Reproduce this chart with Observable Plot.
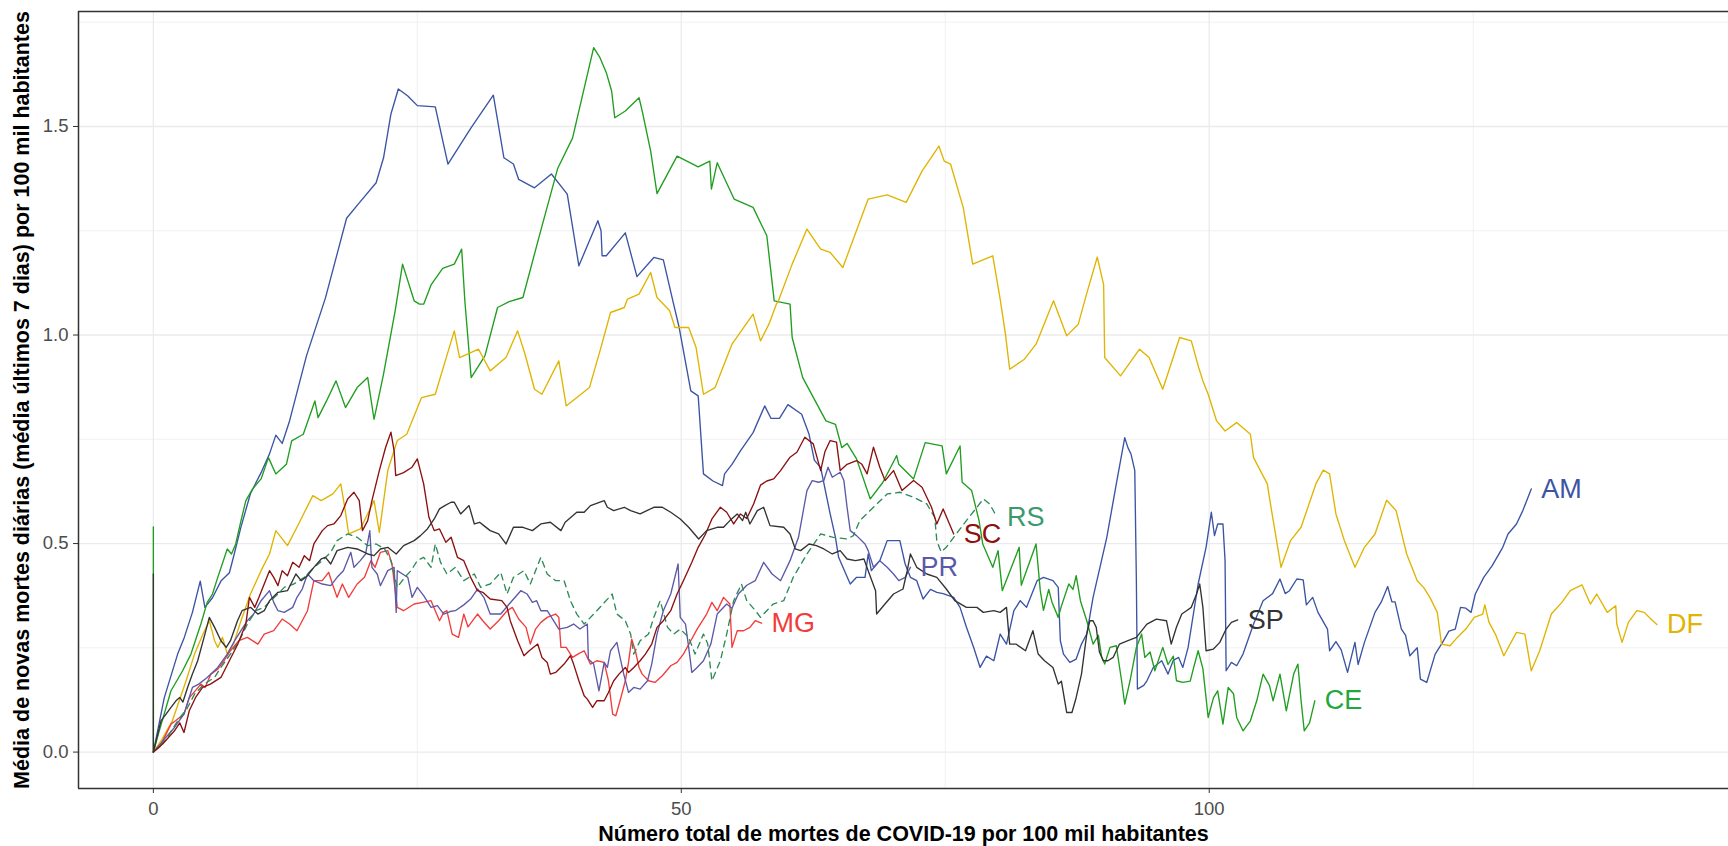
<!DOCTYPE html>
<html><head><meta charset="utf-8">
<script src="https://cdn.jsdelivr.net/npm/d3@7"></script>
<script src="https://cdn.jsdelivr.net/npm/@observablehq/plot@0.6"></script>
<style>
html,body{margin:0;padding:0;background:#fff;overflow:hidden}
#chart svg{display:block}
</style>
</head><body><div id="chart"></div>
<script>
const states = ["AM","CE","DF","MG","PR","RS","SC","SP"];
const xTicks = [0, 50, 100];
const yTicks = [0, 0.5, 1, 1.5];
const xMinor = [25, 75, 125];
const yMinor = [0.25, 0.75, 1.25, 1.75];
const xTitle = "Número total de mortes de COVID-19 por 100 mil habitantes";
const yTitle = "Média de novas mortes diárias (média últimos 7 dias) por 100 mil habitantes";

const AM = [[0,0],[1.03,0.13],[2.3,0.235],[2.93,0.275],[3.7,0.335],[4.44,0.41],[4.88,0.347],[5.6,0.37],[6.4,0.41],[7.2,0.43],[7.66,0.475],[8.3,0.54],[9.2,0.62],[10.2,0.67],[11.0,0.715],[11.6,0.76],[12.2,0.74],[12.9,0.794],[14.5,0.95],[16.3,1.089],[17.4,1.194],[18.3,1.28],[19.4,1.314],[21.1,1.365],[21.8,1.425],[22.5,1.53],[23.2,1.59],[24.1,1.573],[25.0,1.55],[26.7,1.547],[27.9,1.41],[30.1,1.497],[32.2,1.575],[33.2,1.425],[34.1,1.41],[34.6,1.373],[36.1,1.353],[37.7,1.386],[39.2,1.338],[40.3,1.166],[42.1,1.274],[42.4,1.25],[42.5,1.19],[42.9,1.19],[44.7,1.245],[45.8,1.14],[47.4,1.186],[48.3,1.18],[49.2,1.082],[49.8,1.018],[50.9,0.866],[51.6,0.854],[52.1,0.667],[53.0,0.65],[53.9,0.639],[54.1,0.667],[54.8,0.69],[55.6,0.722],[56.8,0.766],[57.9,0.83],[58.5,0.8],[59.3,0.8],[60.1,0.833],[61.4,0.81],[62.1,0.762],[62.6,0.7],[63.2,0.682],[64.1,0.571],[64.6,0.515],[64.9,0.467],[66.0,0.403],[66.6,0.419],[67.4,0.419],[67.7,0.475],[68.0,0.435],[68.8,0.459],[69.5,0.507],[70.7,0.507],[71.2,0.451],[71.7,0.419],[72.3,0.411],[72.9,0.367],[73.6,0.39],[74.2,0.383],[74.8,0.38],[75.8,0.371],[76.4,0.347],[77.0,0.3],[77.7,0.25],[78.3,0.203],[78.9,0.23],[79.6,0.219],[80.2,0.283],[80.8,0.259],[81.5,0.339],[82.1,0.363],[82.7,0.347],[83.7,0.411],[84.3,0.419],[85.2,0.411],[85.7,0.395],[85.9,0.267],[86.2,0.235],[86.8,0.215],[87.4,0.223],[87.9,0.259],[88.4,0.283],[89.0,0.371],[90.3,0.515],[91.2,0.643],[92.0,0.754],[92.3,0.73],[92.6,0.714],[92.95,0.675],[93.1,0.411],[93.2,0.151],[93.8,0.16],[94.1,0.171],[94.7,0.203],[95.5,0.219],[96.1,0.187],[96.6,0.22],[97.1,0.227],[97.5,0.203],[98.0,0.251],[98.95,0.403],[99.7,0.491],[100.2,0.575],[100.5,0.519],[100.8,0.547],[101.3,0.547],[101.5,0.459],[101.6,0.195],[102.1,0.215],[102.6,0.207],[103.2,0.235],[104.2,0.307],[105.1,0.363],[106.0,0.38],[106.7,0.415],[107.2,0.38],[107.6,0.387],[108.3,0.415],[108.9,0.413],[109.2,0.353],[109.8,0.371],[110.3,0.335],[111.2,0.295],[111.4,0.243],[112.0,0.265],[112.5,0.245],[113.1,0.191],[113.8,0.263],[114.1,0.21],[114.7,0.263],[115.7,0.335],[116.3,0.36],[116.9,0.397],[117.3,0.36],[117.6,0.36],[118.2,0.295],[118.6,0.28],[119.0,0.231],[119.7,0.25],[120.0,0.175],[120.6,0.167],[121.4,0.235],[122.1,0.263],[122.7,0.29],[123.3,0.295],[123.8,0.347],[124.3,0.345],[124.8,0.335],[125.2,0.379],[126.0,0.419],[126.8,0.447],[127.8,0.491],[128.3,0.523],[129.1,0.547],[129.7,0.579],[130.5,0.631]];

const CE = [[0,0.54],[0,0],[0.56,0.051],[1.67,0.147],[2.77,0.195],[3.56,0.235],[4.5,0.307],[5.1,0.359],[5.6,0.379],[6.1,0.419],[7.0,0.487],[7.4,0.475],[7.8,0.499],[8.3,0.555],[8.76,0.603],[9.4,0.631],[10.2,0.655],[10.9,0.706],[11.6,0.667],[12.6,0.69],[13.1,0.746],[14.2,0.762],[15.3,0.842],[15.6,0.802],[16.4,0.842],[17.3,0.89],[18.2,0.826],[19.3,0.874],[20.3,0.898],[20.9,0.798],[21.8,0.906],[22.9,1.058],[23.6,1.17],[24.7,1.082],[25.2,1.074],[25.6,1.074],[26.3,1.12],[27.4,1.16],[28.5,1.17],[29.2,1.206],[29.5,1.082],[30.1,0.898],[31.4,0.95],[32.6,1.066],[33.7,1.08],[35.0,1.09],[36.6,1.242],[38.3,1.4],[39.7,1.472],[41.7,1.689],[42.3,1.665],[42.9,1.629],[43.4,1.585],[43.7,1.521],[44.7,1.537],[46.0,1.569],[46.3,1.537],[47.1,1.441],[47.7,1.339],[49.6,1.429],[51.6,1.403],[52.7,1.417],[52.85,1.35],[53.4,1.413],[55.0,1.326],[56.8,1.306],[58.1,1.238],[58.8,1.082],[60.3,1.074],[60.5,0.994],[61.5,0.898],[63.7,0.794],[64.6,0.786],[65.2,0.73],[65.7,0.74],[66.6,0.703],[67.9,0.607],[69.1,0.647],[70.4,0.711],[70.6,0.69],[72.0,0.655],[73.1,0.742],[74.7,0.734],[75.1,0.667],[76.4,0.734],[76.6,0.647],[77.5,0.627],[78.2,0.555],[78.55,0.499],[79.5,0.443],[80.0,0.483],[80.4,0.387],[82.0,0.491],[82.2,0.4],[83.6,0.499],[84.0,0.387],[84.3,0.34],[84.8,0.39],[85.1,0.36],[85.7,0.323],[86.0,0.35],[86.7,0.403],[87.1,0.39],[87.4,0.423],[87.8,0.363],[88.4,0.315],[89.0,0.259],[89.5,0.28],[89.8,0.23],[90.1,0.211],[90.6,0.251],[91.2,0.255],[91.7,0.171],[92.0,0.115],[92.5,0.171],[93.1,0.251],[93.6,0.283],[93.9,0.227],[94.4,0.24],[94.85,0.195],[95.6,0.251],[96.1,0.21],[96.6,0.23],[96.9,0.171],[97.5,0.167],[98.2,0.17],[98.5,0.2],[98.95,0.243],[99.4,0.2],[99.9,0.083],[100.4,0.13],[100.8,0.147],[101.3,0.067],[101.8,0.155],[102.3,0.14],[102.6,0.083],[103.2,0.051],[103.9,0.075],[104.5,0.123],[105.1,0.187],[105.7,0.16],[106.05,0.123],[106.7,0.187],[107.3,0.099],[108.0,0.187],[108.4,0.211],[108.7,0.123],[109.0,0.051],[109.5,0.07],[110.0,0.123]];

const DF = [[0,0],[0.8,0.03],[1.8,0.075],[2.45,0.123],[3.1,0.171],[3.9,0.235],[4.7,0.283],[5.3,0.315],[5.8,0.267],[6.1,0.251],[6.55,0.275],[7.0,0.235],[7.6,0.26],[8.3,0.315],[9.2,0.379],[10.2,0.435],[11.0,0.475],[11.6,0.531],[12.7,0.495],[13.6,0.539],[15.1,0.615],[15.9,0.603],[17.0,0.619],[17.75,0.643],[18.1,0.591],[18.5,0.523],[19.6,0.535],[20.6,0.587],[20.9,0.603],[21.4,0.527],[22.2,0.675],[23.1,0.747],[24.0,0.762],[25.4,0.85],[26.7,0.858],[28.5,1.01],[29.0,0.946],[30.8,0.966],[31.9,0.914],[33.4,0.946],[34.5,1.01],[35.2,0.954],[36.1,0.87],[36.8,0.858],[38.4,0.938],[39.1,0.83],[41.3,0.874],[42.3,0.962],[43.3,1.054],[44.6,1.066],[44.9,1.086],[46.0,1.098],[47.1,1.15],[47.7,1.09],[48.9,1.058],[49.4,1.018],[50.7,1.018],[51.4,0.97],[52.1,0.858],[53.2,0.874],[54.8,0.978],[56.8,1.05],[57.5,0.986],[58.3,1.026],[59.0,1.074],[59.2,1.082],[60.5,1.17],[61.9,1.254],[63.2,1.206],[64.1,1.198],[65.3,1.162],[67.7,1.326],[69.5,1.336],[71.3,1.318],[72.8,1.393],[74.4,1.453],[74.9,1.417],[75.5,1.41],[76.7,1.306],[77.6,1.17],[79.5,1.19],[80.2,1.086],[80.7,1.002],[81.1,0.918],[82.5,0.942],[83.6,0.978],[85.25,1.082],[86.5,0.998],[87.6,1.026],[88.4,1.1],[89.4,1.187],[90.0,1.12],[90.1,0.946],[91.6,0.902],[93.4,0.966],[94.3,0.946],[95.6,0.87],[97.2,0.994],[98.3,0.986],[99.0,0.922],[99.4,0.89],[99.9,0.858],[100.7,0.794],[101.5,0.77],[102.6,0.79],[103.9,0.762],[104.2,0.706],[105.5,0.643],[105.8,0.595],[106.8,0.443],[107.7,0.507],[108.7,0.539],[110.1,0.643],[110.8,0.676],[111.4,0.667],[112.0,0.571],[112.8,0.507],[113.8,0.443],[114.7,0.491],[115.7,0.523],[116.8,0.604],[117.7,0.579],[118.7,0.475],[119.7,0.411],[120.3,0.395],[120.9,0.371],[121.6,0.335],[122.0,0.259],[122.8,0.255],[123.5,0.275],[124.3,0.295],[125.1,0.323],[125.9,0.331],[126.1,0.353],[126.5,0.311],[127.1,0.283],[127.9,0.231],[129.1,0.287],[129.9,0.283],[130.5,0.195],[131.3,0.243],[132.4,0.331],[133.4,0.359],[134.2,0.387],[135.3,0.401],[136.1,0.355],[136.7,0.379],[137.7,0.335],[138.5,0.351],[138.6,0.307],[139.1,0.263],[139.7,0.311],[140.5,0.339],[141.2,0.335],[142.0,0.315],[142.4,0.306]];

const MG = [[0,0],[0.6,0.012],[1.67,0.067],[2.1,0.075],[2.9,0.091],[3.4,0.13],[4.5,0.163],[4.9,0.155],[5.45,0.187],[6.1,0.199],[6.7,0.219],[7.3,0.243],[8.1,0.267],[8.9,0.275],[9.9,0.259],[10.5,0.283],[11.4,0.291],[12.2,0.319],[12.9,0.307],[13.6,0.291],[14.6,0.339],[15.2,0.411],[16.0,0.411],[16.6,0.431],[16.96,0.403],[17.4,0.371],[17.9,0.403],[18.5,0.371],[19.3,0.403],[20.0,0.419],[20.6,0.459],[21.0,0.443],[21.5,0.479],[22.2,0.483],[22.6,0.451],[23.1,0.347],[23.7,0.339],[24.7,0.355],[25.5,0.359],[26.3,0.363],[27.1,0.315],[27.5,0.335],[27.8,0.339],[28.3,0.283],[28.9,0.275],[29.4,0.331],[29.8,0.3],[30.7,0.331],[31.2,0.315],[31.9,0.295],[32.7,0.315],[33.5,0.339],[34.0,0.347],[34.6,0.319],[35.3,0.299],[35.7,0.259],[36.2,0.295],[36.7,0.311],[37.3,0.323],[38.1,0.331],[38.4,0.323],[38.6,0.251],[39.1,0.251],[39.7,0.227],[40.2,0.235],[40.8,0.243],[41.4,0.211],[42.0,0.219],[42.7,0.215],[43.1,0.171],[43.5,0.091],[43.8,0.087],[44.2,0.123],[44.7,0.171],[45.0,0.215],[45.3,0.271],[45.65,0.243],[46.0,0.203],[46.3,0.187],[46.9,0.171],[47.5,0.167],[48.2,0.183],[49.0,0.207],[49.6,0.215],[50.2,0.235],[50.9,0.267],[51.5,0.295],[52.4,0.331],[52.9,0.359],[53.4,0.339],[54.0,0.371],[54.6,0.355],[54.8,0.251],[55.3,0.291],[55.9,0.291],[56.5,0.299],[57.0,0.315],[57.6,0.309]];

const PR = [[0,0],[1.0,0.03],[2.0,0.059],[2.9,0.091],[3.7,0.155],[4.3,0.163],[5.1,0.179],[6.1,0.203],[7.0,0.235],[7.7,0.267],[8.3,0.291],[8.9,0.315],[9.5,0.331],[10.2,0.363],[11.0,0.387],[11.4,0.359],[11.8,0.339],[12.4,0.335],[13.2,0.347],[13.6,0.371],[14.1,0.391],[14.6,0.427],[15.2,0.411],[16.0,0.403],[16.8,0.399],[17.4,0.419],[18.0,0.435],[18.7,0.479],[19.0,0.443],[19.6,0.459],[20.1,0.475],[20.5,0.531],[20.7,0.443],[21.2,0.427],[21.5,0.399],[22.2,0.435],[22.8,0.443],[23.0,0.335],[23.1,0.435],[23.6,0.427],[24.1,0.419],[24.5,0.371],[25.0,0.395],[25.6,0.375],[26.3,0.347],[26.9,0.351],[27.5,0.331],[28.1,0.337],[28.6,0.339],[29.4,0.353],[30.05,0.367],[30.7,0.391],[31.3,0.371],[31.9,0.331],[32.9,0.331],[33.7,0.355],[34.8,0.387],[35.4,0.379],[35.9,0.359],[36.3,0.363],[36.7,0.339],[37.3,0.339],[37.9,0.315],[38.4,0.295],[39.2,0.299],[39.8,0.307],[40.4,0.295],[41.1,0.307],[41.2,0.223],[41.7,0.211],[42.2,0.147],[42.7,0.215],[43.0,0.203],[43.3,0.243],[43.9,0.263],[44.2,0.227],[44.55,0.187],[45.0,0.143],[45.5,0.155],[46.1,0.151],[46.8,0.171],[47.2,0.211],[47.7,0.283],[48.3,0.339],[49.0,0.379],[49.7,0.451],[49.9,0.323],[50.4,0.307],[50.7,0.251],[51.0,0.191],[51.5,0.203],[52.1,0.219],[52.8,0.259],[53.4,0.331],[54.3,0.355],[54.8,0.345],[55.4,0.379],[56.2,0.4],[57.0,0.411],[57.8,0.455],[58.6,0.427],[59.4,0.411],[60.3,0.459],[61.1,0.515],[61.9,0.627],[62.4,0.651],[63.0,0.647],[63.5,0.651],[63.9,0.683],[64.3,0.659],[65.05,0.671],[65.4,0.651],[65.7,0.587],[66.0,0.531],[66.6,0.519],[67.4,0.499],[67.7,0.483],[68.2,0.443],[68.8,0.459],[69.5,0.443],[70.1,0.427],[70.6,0.411],[71.2,0.419],[71.7,0.443]];

const RS = [[0,0],[1.2,0.03],[2.3,0.075],[3.2,0.105],[3.9,0.139],[4.8,0.163],[5.8,0.179],[6.4,0.203],[7.3,0.235],[8.3,0.275],[8.9,0.307],[9.7,0.339],[10.5,0.347],[11.1,0.363],[11.8,0.379],[12.4,0.395],[13.3,0.403],[14.3,0.419],[15.2,0.443],[16.0,0.459],[16.8,0.479],[17.4,0.507],[18.4,0.523],[19.3,0.515],[20.3,0.495],[21.1,0.499],[21.9,0.487],[22.5,0.459],[23.1,0.395],[23.8,0.419],[24.4,0.435],[25.0,0.459],[25.6,0.467],[26.3,0.443],[26.7,0.499],[27.2,0.455],[27.8,0.427],[28.6,0.443],[29.4,0.411],[30.4,0.427],[31.0,0.395],[31.9,0.403],[32.9,0.431],[33.5,0.379],[34.1,0.419],[35.1,0.435],[35.7,0.403],[36.7,0.467],[37.3,0.427],[38.1,0.411],[38.9,0.411],[39.5,0.363],[40.1,0.331],[40.8,0.307],[42.0,0.339],[43.45,0.379],[43.9,0.331],[44.7,0.315],[45.2,0.283],[45.5,0.235],[46.1,0.267],[46.9,0.283],[47.4,0.323],[48.0,0.363],[48.7,0.299],[49.3,0.283],[49.9,0.295],[50.7,0.275],[51.3,0.235],[52.1,0.283],[52.5,0.26],[52.9,0.171],[53.7,0.219],[54.3,0.283],[54.96,0.363],[55.7,0.403],[56.2,0.363],[57.0,0.34],[57.5,0.323],[58.7,0.355],[59.7,0.363],[60.6,0.419],[61.9,0.475],[63.2,0.523],[64.4,0.515],[65.7,0.511],[66.3,0.519],[66.9,0.555],[68.2,0.587],[69.5,0.619],[70.7,0.623],[72.0,0.611],[73.25,0.595],[74.0,0.563],[74.2,0.507],[74.6,0.48],[75.1,0.491],[75.8,0.515],[77.0,0.555],[78.0,0.587],[78.6,0.607],[79.2,0.595],[79.9,0.563]];

const SC = [[0,0],[0.9,0.02],[2.0,0.051],[2.5,0.07],[2.9,0.047],[3.4,0.099],[4.0,0.131],[4.66,0.155],[5.4,0.163],[6.4,0.179],[7.2,0.219],[8.0,0.259],[8.76,0.307],[9.1,0.371],[9.6,0.347],[10.0,0.371],[10.5,0.403],[11.0,0.435],[11.4,0.419],[11.8,0.399],[12.2,0.435],[12.7,0.423],[13.2,0.455],[13.8,0.443],[14.3,0.471],[14.8,0.459],[15.2,0.499],[16.0,0.531],[16.5,0.543],[17.1,0.547],[17.75,0.567],[18.4,0.607],[19.0,0.623],[19.5,0.603],[19.8,0.531],[20.3,0.555],[20.7,0.603],[21.4,0.675],[22.0,0.731],[22.5,0.767],[22.8,0.723],[22.95,0.663],[23.7,0.67],[24.5,0.683],[25.0,0.703],[25.6,0.643],[26.1,0.563],[26.6,0.531],[27.1,0.535],[27.7,0.503],[28.2,0.515],[28.8,0.467],[29.4,0.459],[30.05,0.419],[30.7,0.387],[31.2,0.383],[31.9,0.367],[33.0,0.363],[33.5,0.347],[33.8,0.315],[34.5,0.267],[35.1,0.231],[35.6,0.243],[36.4,0.259],[36.8,0.227],[37.3,0.215],[37.6,0.187],[38.1,0.191],[38.9,0.211],[39.5,0.231],[39.8,0.211],[40.3,0.171],[40.8,0.135],[41.1,0.127],[41.6,0.107],[42.0,0.123],[42.7,0.123],[43.1,0.143],[43.6,0.171],[44.1,0.187],[44.7,0.203],[45.0,0.191],[45.5,0.203],[46.1,0.219],[46.6,0.235],[47.2,0.259],[47.7,0.299],[48.3,0.315],[49.0,0.339],[49.6,0.379],[50.2,0.411],[51.0,0.455],[51.6,0.491],[52.3,0.523],[52.9,0.559],[53.7,0.587],[54.3,0.575],[54.96,0.547],[55.6,0.571],[56.2,0.56],[56.85,0.595],[57.5,0.64],[58.1,0.65],[58.75,0.655],[59.4,0.675],[60.3,0.707],[60.95,0.719],[61.7,0.755],[62.5,0.739],[63.2,0.675],[63.6,0.72],[64.1,0.747],[64.7,0.743],[65.05,0.675],[65.7,0.69],[66.6,0.699],[67.1,0.69],[67.6,0.667],[68.2,0.731],[68.8,0.683],[69.3,0.651],[70.1,0.675],[70.9,0.627],[72.0,0.651],[72.8,0.635],[73.7,0.587],[74.2,0.547],[74.8,0.583],[75.8,0.523]];

const SP = [[0,0.427],[0,0],[0.72,0.075],[1.2,0.091],[1.67,0.107],[2.14,0.123],[2.5,0.131],[2.8,0.12],[3.24,0.155],[3.7,0.187],[4.2,0.219],[4.8,0.275],[5.3,0.323],[5.8,0.299],[6.4,0.267],[6.9,0.251],[7.3,0.267],[7.97,0.315],[8.4,0.339],[9.2,0.347],[9.9,0.331],[10.5,0.339],[11.0,0.363],[11.8,0.383],[12.7,0.387],[13.5,0.427],[14.0,0.411],[14.6,0.423],[15.2,0.443],[15.9,0.463],[16.3,0.467],[16.8,0.451],[17.4,0.483],[18.4,0.491],[19.3,0.487],[20.3,0.475],[20.9,0.471],[21.5,0.487],[22.2,0.491],[23.0,0.475],[23.7,0.495],[24.7,0.507],[25.3,0.519],[25.95,0.535],[26.6,0.559],[27.1,0.583],[27.6,0.591],[28.2,0.599],[28.5,0.599],[29.1,0.571],[29.9,0.591],[30.4,0.547],[30.9,0.551],[31.3,0.543],[31.9,0.531],[32.7,0.523],[33.4,0.499],[34.1,0.539],[35.0,0.539],[35.9,0.531],[36.7,0.547],[37.6,0.551],[38.6,0.531],[39.0,0.551],[40.1,0.575],[40.8,0.575],[41.4,0.591],[42.7,0.603],[43.0,0.587],[43.6,0.579],[44.6,0.587],[45.2,0.579],[46.1,0.571],[47.4,0.587],[48.2,0.587],[49.0,0.575],[49.9,0.559],[50.7,0.539],[51.65,0.511],[52.4,0.531],[53.4,0.539],[54.0,0.539],[54.6,0.555],[55.3,0.571],[55.8,0.555],[56.1,0.575],[56.5,0.547],[57.2,0.579],[57.8,0.587],[58.4,0.543],[59.7,0.539],[60.3,0.523],[60.8,0.487],[61.3,0.483],[62.1,0.499],[62.8,0.495],[63.5,0.487],[64.3,0.475],[65.05,0.483],[65.7,0.463],[66.5,0.459],[67.3,0.463],[67.7,0.435],[68.4,0.387],[68.5,0.331],[69.15,0.351],[70.1,0.379],[71.0,0.391],[71.4,0.435],[71.7,0.475],[72.3,0.443],[73.25,0.427],[74.2,0.419],[75.1,0.391],[75.9,0.363],[77.0,0.347],[78.0,0.347],[78.6,0.335],[79.6,0.339],[80.2,0.335],[80.8,0.347],[81.1,0.259],[81.7,0.259],[82.6,0.243],[83.3,0.291],[83.8,0.235],[84.4,0.219],[85.2,0.203],[85.7,0.163],[86.0,0.17],[86.5,0.095],[87.0,0.095],[87.4,0.131],[87.9,0.187],[88.4,0.283],[88.7,0.315],[89.0,0.315],[89.3,0.299],[89.6,0.24],[89.96,0.219],[90.4,0.219],[90.9,0.227],[91.5,0.259],[92.3,0.267],[93.1,0.275],[94.1,0.307],[95.0,0.319],[95.95,0.315],[96.4,0.259],[96.9,0.3],[97.4,0.331],[97.85,0.339],[98.3,0.347],[98.8,0.379],[99.1,0.403],[99.4,0.347],[99.7,0.243],[100.4,0.247],[101.0,0.263],[101.6,0.295],[102.1,0.311],[102.7,0.317]];

const series = {AM, CE, DF, MG, PR, RS, SC, SP};

// styles
const colors = {AM:"#3b54a4", CE:"#1f9e1f", DF:"#e0b400", MG:"#f23c3c", PR:"#5c5aa8", RS:"#2e8b57", SC:"#8b1010", SP:"#333333"};
const labelColors = {AM:"#3b54a4", CE:"#22a83a", DF:"#e0b400", MG:"#f23c3c", PR:"#5c5aa8", RS:"#3a9a6e", SC:"#8b1010", SP:"#333333"};
const dashes = {RS: "6,5"};

const xDomain = [-7.09, 149.18];
const yDomain = [-0.0873, 1.7757];

const labelData = states.map(s => {
  const p = series[s][series[s].length - 1];
  return {state: s, x: p[0], y: p[1]};
});

const plot = Plot.plot({
  width: 1728, height: 846,
  marginLeft: 78, marginRight: 0, marginTop: 11, marginBottom: 58,
  x: {domain: xDomain},
  y: {domain: yDomain},
  style: {fontFamily: "'Liberation Sans', Arial, sans-serif", background: "#fff", overflow: "visible"},
  marks: [
    Plot.ruleX(xMinor, {stroke: "#ebebeb", strokeWidth: 0.7}),
    Plot.ruleY(yMinor, {stroke: "#ebebeb", strokeWidth: 0.7}),
    Plot.ruleX(xTicks, {stroke: "#ebebeb", strokeWidth: 1.3}),
    Plot.ruleY(yTicks, {stroke: "#ebebeb", strokeWidth: 1.3}),
    ...states.map(s => Plot.line(series[s], {
      x: d => d[0], y: d => d[1],
      stroke: colors[s], strokeWidth: 1.35,
      strokeDasharray: dashes[s], strokeLinejoin: "round"
    })),
    Plot.text(labelData, {
      x: "x", y: "y", text: "state",
      fill: d => labelColors[d.state],
      textAnchor: "start", lineAnchor: "middle", dx: 10, fontSize: 27
    }),
    Plot.ruleX([xDomain[0]], {stroke: "#333", strokeWidth: 1.5}),
    Plot.ruleY(yDomain, {stroke: "#333", strokeWidth: 1.5}),
    Plot.axisX(xTicks, {tickSize: 5, tickPadding: 8, fontSize: 18.5, fill: "#4d4d4d", stroke: "#333", label: null}),
    Plot.axisY(yTicks, {tickSize: 5, tickPadding: 5, fontSize: 18.5, fill: "#4d4d4d", stroke: "#333", tickFormat: d3.format(".1f"), label: null}),
    Plot.text([xTitle], {frameAnchor: "bottom", textAnchor: "middle", lineAnchor: "middle", dy: 46, fontWeight: "bold", fontSize: 21.5, fill: "#000"}),
    Plot.text([yTitle], {frameAnchor: "left", textAnchor: "middle", lineAnchor: "middle", dx: -56, rotate: -90, fontWeight: "bold", fontSize: 21.5, fill: "#000"})
  ]
});
document.getElementById("chart").appendChild(plot);
</script>
</body></html>
